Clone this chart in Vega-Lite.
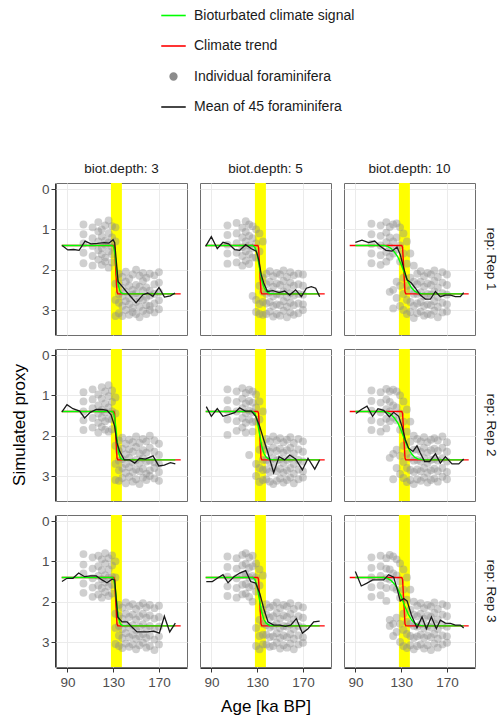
{
"$schema": "https://vega.github.io/schema/vega-lite/v6.json",
"background": "white",
"padding": {"left": 10, "top": 2, "right": 2, "bottom": 2},
"data": {"values": [
{"t":"b","d":3,"r":1,"a":128,"a2":137.6},{"t":"b","d":3,"r":2,"a":128,"a2":137.6},{"t":"b","d":3,"r":3,"a":128,"a2":137.6},
{"t":"b","d":5,"r":1,"a":128,"a2":137.6},{"t":"b","d":5,"r":2,"a":128,"a2":137.6},{"t":"b","d":5,"r":3,"a":128,"a2":137.6},
{"t":"b","d":10,"r":1,"a":128,"a2":137.6},{"t":"b","d":10,"r":2,"a":128,"a2":137.6},{"t":"b","d":10,"r":3,"a":128,"a2":137.6},

{"t":"c","d":3,"r":1,"a":85,"p":1.4},{"t":"c","d":3,"r":1,"a":130.5,"p":1.4},{"t":"c","d":3,"r":1,"a":131.2,"p":1.45},{"t":"c","d":3,"r":1,"a":133.3,"p":2.55},{"t":"c","d":3,"r":1,"a":134,"p":2.6},{"t":"c","d":3,"r":1,"a":189,"p":2.6},
{"t":"c","d":3,"r":2,"a":85,"p":1.4},{"t":"c","d":3,"r":2,"a":130.5,"p":1.4},{"t":"c","d":3,"r":2,"a":131.2,"p":1.45},{"t":"c","d":3,"r":2,"a":133.3,"p":2.55},{"t":"c","d":3,"r":2,"a":134,"p":2.6},{"t":"c","d":3,"r":2,"a":189,"p":2.6},
{"t":"c","d":3,"r":3,"a":85,"p":1.4},{"t":"c","d":3,"r":3,"a":130.5,"p":1.4},{"t":"c","d":3,"r":3,"a":131.2,"p":1.45},{"t":"c","d":3,"r":3,"a":133.3,"p":2.55},{"t":"c","d":3,"r":3,"a":134,"p":2.6},{"t":"c","d":3,"r":3,"a":189,"p":2.6},
{"t":"c","d":5,"r":1,"a":85,"p":1.4},{"t":"c","d":5,"r":1,"a":130.5,"p":1.4},{"t":"c","d":5,"r":1,"a":131.2,"p":1.45},{"t":"c","d":5,"r":1,"a":133.3,"p":2.55},{"t":"c","d":5,"r":1,"a":134,"p":2.6},{"t":"c","d":5,"r":1,"a":189,"p":2.6},
{"t":"c","d":5,"r":2,"a":85,"p":1.4},{"t":"c","d":5,"r":2,"a":130.5,"p":1.4},{"t":"c","d":5,"r":2,"a":131.2,"p":1.45},{"t":"c","d":5,"r":2,"a":133.3,"p":2.55},{"t":"c","d":5,"r":2,"a":134,"p":2.6},{"t":"c","d":5,"r":2,"a":189,"p":2.6},
{"t":"c","d":5,"r":3,"a":85,"p":1.4},{"t":"c","d":5,"r":3,"a":130.5,"p":1.4},{"t":"c","d":5,"r":3,"a":131.2,"p":1.45},{"t":"c","d":5,"r":3,"a":133.3,"p":2.55},{"t":"c","d":5,"r":3,"a":134,"p":2.6},{"t":"c","d":5,"r":3,"a":189,"p":2.6},
{"t":"c","d":10,"r":1,"a":85,"p":1.4},{"t":"c","d":10,"r":1,"a":130.5,"p":1.4},{"t":"c","d":10,"r":1,"a":131.2,"p":1.45},{"t":"c","d":10,"r":1,"a":133.3,"p":2.55},{"t":"c","d":10,"r":1,"a":134,"p":2.6},{"t":"c","d":10,"r":1,"a":189,"p":2.6},
{"t":"c","d":10,"r":2,"a":85,"p":1.4},{"t":"c","d":10,"r":2,"a":130.5,"p":1.4},{"t":"c","d":10,"r":2,"a":131.2,"p":1.45},{"t":"c","d":10,"r":2,"a":133.3,"p":2.55},{"t":"c","d":10,"r":2,"a":134,"p":2.6},{"t":"c","d":10,"r":2,"a":189,"p":2.6},
{"t":"c","d":10,"r":3,"a":85,"p":1.4},{"t":"c","d":10,"r":3,"a":130.5,"p":1.4},{"t":"c","d":10,"r":3,"a":131.2,"p":1.45},{"t":"c","d":10,"r":3,"a":133.3,"p":2.55},{"t":"c","d":10,"r":3,"a":134,"p":2.6},{"t":"c","d":10,"r":3,"a":189,"p":2.6},

{"t":"g","d":3,"r":1,"a":85,"p":1.4},{"t":"g","d":3,"r":1,"a":129.5,"p":1.4},{"t":"g","d":3,"r":1,"a":130.5,"p":1.45},{"t":"g","d":3,"r":1,"a":131.5,"p":1.6},{"t":"g","d":3,"r":1,"a":132.5,"p":1.85},{"t":"g","d":3,"r":1,"a":133.5,"p":2.15},{"t":"g","d":3,"r":1,"a":134.5,"p":2.38},{"t":"g","d":3,"r":1,"a":135.5,"p":2.5},{"t":"g","d":3,"r":1,"a":136.5,"p":2.56},{"t":"g","d":3,"r":1,"a":138,"p":2.59},{"t":"g","d":3,"r":1,"a":140,"p":2.6},{"t":"g","d":3,"r":1,"a":184.3,"p":2.6},
{"t":"g","d":3,"r":2,"a":85,"p":1.4},{"t":"g","d":3,"r":2,"a":129.5,"p":1.4},{"t":"g","d":3,"r":2,"a":130.5,"p":1.45},{"t":"g","d":3,"r":2,"a":131.5,"p":1.6},{"t":"g","d":3,"r":2,"a":132.5,"p":1.85},{"t":"g","d":3,"r":2,"a":133.5,"p":2.15},{"t":"g","d":3,"r":2,"a":134.5,"p":2.38},{"t":"g","d":3,"r":2,"a":135.5,"p":2.5},{"t":"g","d":3,"r":2,"a":136.5,"p":2.56},{"t":"g","d":3,"r":2,"a":138,"p":2.59},{"t":"g","d":3,"r":2,"a":140,"p":2.6},{"t":"g","d":3,"r":2,"a":184.3,"p":2.6},
{"t":"g","d":3,"r":3,"a":85,"p":1.4},{"t":"g","d":3,"r":3,"a":129.5,"p":1.4},{"t":"g","d":3,"r":3,"a":130.5,"p":1.45},{"t":"g","d":3,"r":3,"a":131.5,"p":1.6},{"t":"g","d":3,"r":3,"a":132.5,"p":1.85},{"t":"g","d":3,"r":3,"a":133.5,"p":2.15},{"t":"g","d":3,"r":3,"a":134.5,"p":2.38},{"t":"g","d":3,"r":3,"a":135.5,"p":2.5},{"t":"g","d":3,"r":3,"a":136.5,"p":2.56},{"t":"g","d":3,"r":3,"a":138,"p":2.59},{"t":"g","d":3,"r":3,"a":140,"p":2.6},{"t":"g","d":3,"r":3,"a":184.3,"p":2.6},
{"t":"g","d":5,"r":1,"a":85,"p":1.4},{"t":"g","d":5,"r":1,"a":126,"p":1.4},{"t":"g","d":5,"r":1,"a":128,"p":1.45},{"t":"g","d":5,"r":1,"a":130,"p":1.62},{"t":"g","d":5,"r":1,"a":132,"p":1.95},{"t":"g","d":5,"r":1,"a":134,"p":2.27},{"t":"g","d":5,"r":1,"a":136,"p":2.45},{"t":"g","d":5,"r":1,"a":138,"p":2.54},{"t":"g","d":5,"r":1,"a":141,"p":2.59},{"t":"g","d":5,"r":1,"a":145,"p":2.6},{"t":"g","d":5,"r":1,"a":184.6,"p":2.6},
{"t":"g","d":5,"r":2,"a":85,"p":1.4},{"t":"g","d":5,"r":2,"a":126,"p":1.4},{"t":"g","d":5,"r":2,"a":128,"p":1.45},{"t":"g","d":5,"r":2,"a":130,"p":1.62},{"t":"g","d":5,"r":2,"a":132,"p":1.95},{"t":"g","d":5,"r":2,"a":134,"p":2.27},{"t":"g","d":5,"r":2,"a":136,"p":2.45},{"t":"g","d":5,"r":2,"a":138,"p":2.54},{"t":"g","d":5,"r":2,"a":141,"p":2.59},{"t":"g","d":5,"r":2,"a":145,"p":2.6},{"t":"g","d":5,"r":2,"a":184.6,"p":2.6},
{"t":"g","d":5,"r":3,"a":85,"p":1.4},{"t":"g","d":5,"r":3,"a":126,"p":1.4},{"t":"g","d":5,"r":3,"a":128,"p":1.45},{"t":"g","d":5,"r":3,"a":130,"p":1.62},{"t":"g","d":5,"r":3,"a":132,"p":1.95},{"t":"g","d":5,"r":3,"a":134,"p":2.27},{"t":"g","d":5,"r":3,"a":136,"p":2.45},{"t":"g","d":5,"r":3,"a":138,"p":2.54},{"t":"g","d":5,"r":3,"a":141,"p":2.59},{"t":"g","d":5,"r":3,"a":145,"p":2.6},{"t":"g","d":5,"r":3,"a":184.6,"p":2.6},
{"t":"g","d":10,"r":1,"a":90,"p":1.4},{"t":"g","d":10,"r":1,"a":115,"p":1.4},{"t":"g","d":10,"r":1,"a":118,"p":1.42},{"t":"g","d":10,"r":1,"a":121,"p":1.47},{"t":"g","d":10,"r":1,"a":124,"p":1.56},{"t":"g","d":10,"r":1,"a":127,"p":1.68},{"t":"g","d":10,"r":1,"a":130,"p":1.87},{"t":"g","d":10,"r":1,"a":133,"p":2.1},{"t":"g","d":10,"r":1,"a":136,"p":2.3},{"t":"g","d":10,"r":1,"a":139,"p":2.45},{"t":"g","d":10,"r":1,"a":142,"p":2.54},{"t":"g","d":10,"r":1,"a":145,"p":2.58},{"t":"g","d":10,"r":1,"a":149,"p":2.6},{"t":"g","d":10,"r":1,"a":184.6,"p":2.6},
{"t":"g","d":10,"r":2,"a":90,"p":1.4},{"t":"g","d":10,"r":2,"a":115,"p":1.4},{"t":"g","d":10,"r":2,"a":118,"p":1.42},{"t":"g","d":10,"r":2,"a":121,"p":1.47},{"t":"g","d":10,"r":2,"a":124,"p":1.56},{"t":"g","d":10,"r":2,"a":127,"p":1.68},{"t":"g","d":10,"r":2,"a":130,"p":1.87},{"t":"g","d":10,"r":2,"a":133,"p":2.1},{"t":"g","d":10,"r":2,"a":136,"p":2.3},{"t":"g","d":10,"r":2,"a":139,"p":2.45},{"t":"g","d":10,"r":2,"a":142,"p":2.54},{"t":"g","d":10,"r":2,"a":145,"p":2.58},{"t":"g","d":10,"r":2,"a":149,"p":2.6},{"t":"g","d":10,"r":2,"a":184.6,"p":2.6},
{"t":"g","d":10,"r":3,"a":90,"p":1.4},{"t":"g","d":10,"r":3,"a":115,"p":1.4},{"t":"g","d":10,"r":3,"a":118,"p":1.42},{"t":"g","d":10,"r":3,"a":121,"p":1.47},{"t":"g","d":10,"r":3,"a":124,"p":1.56},{"t":"g","d":10,"r":3,"a":127,"p":1.68},{"t":"g","d":10,"r":3,"a":130,"p":1.87},{"t":"g","d":10,"r":3,"a":133,"p":2.1},{"t":"g","d":10,"r":3,"a":136,"p":2.3},{"t":"g","d":10,"r":3,"a":139,"p":2.45},{"t":"g","d":10,"r":3,"a":142,"p":2.54},{"t":"g","d":10,"r":3,"a":145,"p":2.58},{"t":"g","d":10,"r":3,"a":149,"p":2.6},{"t":"g","d":10,"r":3,"a":184.6,"p":2.6},

{"t":"m","d":3,"r":1,"a":85.4,"p":1.4},{"t":"m","d":3,"r":1,"a":90.3,"p":1.51},{"t":"m","d":3,"r":1,"a":95.4,"p":1.5},{"t":"m","d":3,"r":1,"a":100.2,"p":1.52},{"t":"m","d":3,"r":1,"a":105.4,"p":1.29},{"t":"m","d":3,"r":1,"a":110.6,"p":1.36},{"t":"m","d":3,"r":1,"a":116.2,"p":1.35},{"t":"m","d":3,"r":1,"a":122.2,"p":1.33},{"t":"m","d":3,"r":1,"a":126.3,"p":1.34},{"t":"m","d":3,"r":1,"a":129.9,"p":1.26},{"t":"m","d":3,"r":1,"a":131.3,"p":1.33},{"t":"m","d":3,"r":1,"a":134.3,"p":2.3},{"t":"m","d":3,"r":1,"a":138,"p":2.42},{"t":"m","d":3,"r":1,"a":142,"p":2.56},{"t":"m","d":3,"r":1,"a":150,"p":2.82},{"t":"m","d":3,"r":1,"a":156,"p":2.62},{"t":"m","d":3,"r":1,"a":160.1,"p":2.58},{"t":"m","d":3,"r":1,"a":164.7,"p":2.66},{"t":"m","d":3,"r":1,"a":170,"p":2.44},{"t":"m","d":3,"r":1,"a":174.8,"p":2.68},{"t":"m","d":3,"r":1,"a":180,"p":2.65},{"t":"m","d":3,"r":1,"a":184,"p":2.58},
{"t":"m","d":5,"r":1,"a":84.9,"p":1.42},{"t":"m","d":5,"r":1,"a":89.9,"p":1.18},{"t":"m","d":5,"r":1,"a":95.1,"p":1.48},{"t":"m","d":5,"r":1,"a":100.1,"p":1.32},{"t":"m","d":5,"r":1,"a":105,"p":1.36},{"t":"m","d":5,"r":1,"a":110.3,"p":1.5},{"t":"m","d":5,"r":1,"a":114.7,"p":1.52},{"t":"m","d":5,"r":1,"a":119.9,"p":1.38},{"t":"m","d":5,"r":1,"a":124.9,"p":1.48},{"t":"m","d":5,"r":1,"a":129.2,"p":1.54},{"t":"m","d":5,"r":1,"a":131.3,"p":1.75},{"t":"m","d":5,"r":1,"a":133.6,"p":2.13},{"t":"m","d":5,"r":1,"a":135.7,"p":2.33},{"t":"m","d":5,"r":1,"a":138.9,"p":2.54},{"t":"m","d":5,"r":1,"a":143.8,"p":2.52},{"t":"m","d":5,"r":1,"a":149.1,"p":2.57},{"t":"m","d":5,"r":1,"a":154,"p":2.53},{"t":"m","d":5,"r":1,"a":158.4,"p":2.63},{"t":"m","d":5,"r":1,"a":163.6,"p":2.5},{"t":"m","d":5,"r":1,"a":168.6,"p":2.67},{"t":"m","d":5,"r":1,"a":173,"p":2.46},{"t":"m","d":5,"r":1,"a":177.3,"p":2.42},{"t":"m","d":5,"r":1,"a":181.1,"p":2.46},{"t":"m","d":5,"r":1,"a":184.6,"p":2.67},
{"t":"m","d":10,"r":1,"a":89.9,"p":1.32},{"t":"m","d":10,"r":1,"a":95.7,"p":1.27},{"t":"m","d":10,"r":1,"a":101.5,"p":1.33},{"t":"m","d":10,"r":1,"a":106.8,"p":1.29},{"t":"m","d":10,"r":1,"a":111.7,"p":1.42},{"t":"m","d":10,"r":1,"a":116.7,"p":1.52},{"t":"m","d":10,"r":1,"a":122,"p":1.54},{"t":"m","d":10,"r":1,"a":126.3,"p":1.44},{"t":"m","d":10,"r":1,"a":129.2,"p":1.63},{"t":"m","d":10,"r":1,"a":132.2,"p":1.96},{"t":"m","d":10,"r":1,"a":135.1,"p":2.25},{"t":"m","d":10,"r":1,"a":138.9,"p":2.33},{"t":"m","d":10,"r":1,"a":142.4,"p":2.46},{"t":"m","d":10,"r":1,"a":146.7,"p":2.63},{"t":"m","d":10,"r":1,"a":151.1,"p":2.73},{"t":"m","d":10,"r":1,"a":155.5,"p":2.73},{"t":"m","d":10,"r":1,"a":159.9,"p":2.54},{"t":"m","d":10,"r":1,"a":164.2,"p":2.67},{"t":"m","d":10,"r":1,"a":168.6,"p":2.63},{"t":"m","d":10,"r":1,"a":173,"p":2.63},{"t":"m","d":10,"r":1,"a":177.3,"p":2.67},{"t":"m","d":10,"r":1,"a":181.7,"p":2.67},{"t":"m","d":10,"r":1,"a":184.6,"p":2.57},
{"t":"m","d":3,"r":2,"a":85.2,"p":1.41},{"t":"m","d":3,"r":2,"a":89.6,"p":1.23},{"t":"m","d":3,"r":2,"a":94.8,"p":1.33},{"t":"m","d":3,"r":2,"a":100.7,"p":1.39},{"t":"m","d":3,"r":2,"a":105,"p":1.56},{"t":"m","d":3,"r":2,"a":110,"p":1.42},{"t":"m","d":3,"r":2,"a":115.2,"p":1.35},{"t":"m","d":3,"r":2,"a":120.2,"p":1.35},{"t":"m","d":3,"r":2,"a":124.6,"p":1.37},{"t":"m","d":3,"r":2,"a":128.1,"p":1.48},{"t":"m","d":3,"r":2,"a":131.3,"p":1.77},{"t":"m","d":3,"r":2,"a":133.3,"p":2.18},{"t":"m","d":3,"r":2,"a":135.7,"p":2.39},{"t":"m","d":3,"r":2,"a":139.7,"p":2.6},{"t":"m","d":3,"r":2,"a":144.4,"p":2.6},{"t":"m","d":3,"r":2,"a":148.8,"p":2.68},{"t":"m","d":3,"r":2,"a":153.1,"p":2.56},{"t":"m","d":3,"r":2,"a":158.1,"p":2.58},{"t":"m","d":3,"r":2,"a":164.8,"p":2.5},{"t":"m","d":3,"r":2,"a":169.8,"p":2.75},{"t":"m","d":3,"r":2,"a":174.7,"p":2.73},{"t":"m","d":3,"r":2,"a":180,"p":2.67},{"t":"m","d":3,"r":2,"a":184.3,"p":2.7},
{"t":"m","d":5,"r":2,"a":85.5,"p":1.28},{"t":"m","d":5,"r":2,"a":89.9,"p":1.52},{"t":"m","d":5,"r":2,"a":95.1,"p":1.33},{"t":"m","d":5,"r":2,"a":100.1,"p":1.52},{"t":"m","d":5,"r":2,"a":105,"p":1.48},{"t":"m","d":5,"r":2,"a":110.3,"p":1.43},{"t":"m","d":5,"r":2,"a":114.7,"p":1.31},{"t":"m","d":5,"r":2,"a":119.6,"p":1.39},{"t":"m","d":5,"r":2,"a":124.9,"p":1.39},{"t":"m","d":5,"r":2,"a":128.7,"p":1.52},{"t":"m","d":5,"r":2,"a":132.2,"p":1.77},{"t":"m","d":5,"r":2,"a":135.7,"p":2.1},{"t":"m","d":5,"r":2,"a":139.4,"p":2.43},{"t":"m","d":5,"r":2,"a":144.4,"p":2.92},{"t":"m","d":5,"r":2,"a":149.1,"p":2.52},{"t":"m","d":5,"r":2,"a":154,"p":2.6},{"t":"m","d":5,"r":2,"a":158.4,"p":2.48},{"t":"m","d":5,"r":2,"a":163.6,"p":2.58},{"t":"m","d":5,"r":2,"a":169.5,"p":2.85},{"t":"m","d":5,"r":2,"a":174.4,"p":2.56},{"t":"m","d":5,"r":2,"a":180.3,"p":2.83},{"t":"m","d":5,"r":2,"a":184.6,"p":2.6},
{"t":"m","d":10,"r":2,"a":90.5,"p":1.45},{"t":"m","d":10,"r":2,"a":95.1,"p":1.35},{"t":"m","d":10,"r":2,"a":100.1,"p":1.27},{"t":"m","d":10,"r":2,"a":105,"p":1.52},{"t":"m","d":10,"r":2,"a":109.7,"p":1.33},{"t":"m","d":10,"r":2,"a":114.7,"p":1.37},{"t":"m","d":10,"r":2,"a":119.6,"p":1.53},{"t":"m","d":10,"r":2,"a":123.4,"p":1.42},{"t":"m","d":10,"r":2,"a":127.8,"p":1.52},{"t":"m","d":10,"r":2,"a":130.7,"p":1.77},{"t":"m","d":10,"r":2,"a":133.6,"p":2.1},{"t":"m","d":10,"r":2,"a":136.5,"p":2.31},{"t":"m","d":10,"r":2,"a":140.3,"p":2.39},{"t":"m","d":10,"r":2,"a":143.8,"p":2.25},{"t":"m","d":10,"r":2,"a":146.7,"p":2.43},{"t":"m","d":10,"r":2,"a":150.5,"p":2.64},{"t":"m","d":10,"r":2,"a":154.9,"p":2.64},{"t":"m","d":10,"r":2,"a":159.9,"p":2.45},{"t":"m","d":10,"r":2,"a":164.2,"p":2.68},{"t":"m","d":10,"r":2,"a":168.6,"p":2.52},{"t":"m","d":10,"r":2,"a":174.4,"p":2.7},{"t":"m","d":10,"r":2,"a":180.3,"p":2.7},{"t":"m","d":10,"r":2,"a":184.6,"p":2.58},
{"t":"m","d":3,"r":3,"a":85.2,"p":1.5},{"t":"m","d":3,"r":3,"a":89.6,"p":1.42},{"t":"m","d":3,"r":3,"a":94.8,"p":1.42},{"t":"m","d":3,"r":3,"a":99.8,"p":1.29},{"t":"m","d":3,"r":3,"a":105,"p":1.38},{"t":"m","d":3,"r":3,"a":110,"p":1.36},{"t":"m","d":3,"r":3,"a":115.2,"p":1.36},{"t":"m","d":3,"r":3,"a":120.2,"p":1.46},{"t":"m","d":3,"r":3,"a":124.6,"p":1.53},{"t":"m","d":3,"r":3,"a":129,"p":1.44},{"t":"m","d":3,"r":3,"a":131.3,"p":1.46},{"t":"m","d":3,"r":3,"a":133.9,"p":2.38},{"t":"m","d":3,"r":3,"a":137.7,"p":2.5},{"t":"m","d":3,"r":3,"a":142.1,"p":2.5},{"t":"m","d":3,"r":3,"a":146.4,"p":2.63},{"t":"m","d":3,"r":3,"a":150.8,"p":2.75},{"t":"m","d":3,"r":3,"a":155.2,"p":2.75},{"t":"m","d":3,"r":3,"a":160.1,"p":2.75},{"t":"m","d":3,"r":3,"a":165.4,"p":2.73},{"t":"m","d":3,"r":3,"a":170.3,"p":2.78},{"t":"m","d":3,"r":3,"a":174.7,"p":2.36},{"t":"m","d":3,"r":3,"a":179.4,"p":2.75},{"t":"m","d":3,"r":3,"a":184.3,"p":2.53},
{"t":"m","d":5,"r":3,"a":85.5,"p":1.5},{"t":"m","d":5,"r":3,"a":90.8,"p":1.5},{"t":"m","d":5,"r":3,"a":95.1,"p":1.42},{"t":"m","d":5,"r":3,"a":100.1,"p":1.33},{"t":"m","d":5,"r":3,"a":104.5,"p":1.53},{"t":"m","d":5,"r":3,"a":109.7,"p":1.38},{"t":"m","d":5,"r":3,"a":114.7,"p":1.29},{"t":"m","d":5,"r":3,"a":119.9,"p":1.23},{"t":"m","d":5,"r":3,"a":124.3,"p":1.5},{"t":"m","d":5,"r":3,"a":128.7,"p":1.54},{"t":"m","d":5,"r":3,"a":132.2,"p":1.79},{"t":"m","d":5,"r":3,"a":135.7,"p":2.17},{"t":"m","d":5,"r":3,"a":139.4,"p":2.5},{"t":"m","d":5,"r":3,"a":144.4,"p":2.58},{"t":"m","d":5,"r":3,"a":149.7,"p":2.58},{"t":"m","d":5,"r":3,"a":154.6,"p":2.61},{"t":"m","d":5,"r":3,"a":159.3,"p":2.58},{"t":"m","d":5,"r":3,"a":164.2,"p":2.42},{"t":"m","d":5,"r":3,"a":169.5,"p":2.78},{"t":"m","d":5,"r":3,"a":174.4,"p":2.67},{"t":"m","d":5,"r":3,"a":179.4,"p":2.5},{"t":"m","d":5,"r":3,"a":184.6,"p":2.48},
{"t":"m","d":10,"r":3,"a":89.9,"p":1.25},{"t":"m","d":10,"r":3,"a":95.1,"p":1.61},{"t":"m","d":10,"r":3,"a":100.1,"p":1.54},{"t":"m","d":10,"r":3,"a":105,"p":1.46},{"t":"m","d":10,"r":3,"a":109.7,"p":1.46},{"t":"m","d":10,"r":3,"a":114.7,"p":1.46},{"t":"m","d":10,"r":3,"a":119,"p":1.33},{"t":"m","d":10,"r":3,"a":123.4,"p":1.39},{"t":"m","d":10,"r":3,"a":126.3,"p":1.67},{"t":"m","d":10,"r":3,"a":129.2,"p":1.98},{"t":"m","d":10,"r":3,"a":132.2,"p":1.92},{"t":"m","d":10,"r":3,"a":135.1,"p":1.98},{"t":"m","d":10,"r":3,"a":138.9,"p":2.33},{"t":"m","d":10,"r":3,"a":143.8,"p":2.65},{"t":"m","d":10,"r":3,"a":148.2,"p":2.38},{"t":"m","d":10,"r":3,"a":152,"p":2.67},{"t":"m","d":10,"r":3,"a":156.4,"p":2.38},{"t":"m","d":10,"r":3,"a":160.7,"p":2.67},{"t":"m","d":10,"r":3,"a":164.2,"p":2.46},{"t":"m","d":10,"r":3,"a":168.6,"p":2.53},{"t":"m","d":10,"r":3,"a":173,"p":2.54},{"t":"m","d":10,"r":3,"a":177.3,"p":2.58},{"t":"m","d":10,"r":3,"a":181.7,"p":2.58},{"t":"m","d":10,"r":3,"a":184.6,"p":2.65},

{"t":"f","d":3,"r":1,"a":104,"p":0.88},{"t":"f","d":3,"r":1,"a":104,"p":1.12},{"t":"f","d":3,"r":1,"a":104,"p":1.35},{"t":"f","d":3,"r":1,"a":104,"p":1.58},{"t":"f","d":3,"r":1,"a":104,"p":1.84},
{"t":"f","d":3,"r":1,"a":112,"p":0.95},{"t":"f","d":3,"r":1,"a":112,"p":1.22},{"t":"f","d":3,"r":1,"a":112,"p":1.41},{"t":"f","d":3,"r":1,"a":112,"p":1.66},{"t":"f","d":3,"r":1,"a":112,"p":1.9},
{"t":"f","d":3,"r":1,"a":117,"p":0.82},{"t":"f","d":3,"r":1,"a":117,"p":1.05},{"t":"f","d":3,"r":1,"a":117,"p":1.3},{"t":"f","d":3,"r":1,"a":117,"p":1.52},{"t":"f","d":3,"r":1,"a":117,"p":1.75},
{"t":"f","d":3,"r":1,"a":120,"p":1.0},{"t":"f","d":3,"r":1,"a":120,"p":1.18},{"t":"f","d":3,"r":1,"a":120,"p":1.46},{"t":"f","d":3,"r":1,"a":120,"p":1.62},{"t":"f","d":3,"r":1,"a":120,"p":1.88},
{"t":"f","d":3,"r":1,"a":123,"p":0.9},{"t":"f","d":3,"r":1,"a":123,"p":1.28},{"t":"f","d":3,"r":1,"a":123,"p":1.38},{"t":"f","d":3,"r":1,"a":123,"p":1.7},{"t":"f","d":3,"r":1,"a":123,"p":1.8},
{"t":"f","d":3,"r":1,"a":126,"p":0.78},{"t":"f","d":3,"r":1,"a":126,"p":1.1},{"t":"f","d":3,"r":1,"a":126,"p":1.33},{"t":"f","d":3,"r":1,"a":126,"p":1.55},{"t":"f","d":3,"r":1,"a":126,"p":1.95},
{"t":"f","d":3,"r":1,"a":129,"p":0.92},{"t":"f","d":3,"r":1,"a":129,"p":1.2},{"t":"f","d":3,"r":1,"a":129,"p":1.44},{"t":"f","d":3,"r":1,"a":129,"p":1.62},{"t":"f","d":3,"r":1,"a":129,"p":1.82},
{"t":"f","d":3,"r":1,"a":132,"p":0.95},{"t":"f","d":3,"r":1,"a":132,"p":1.3},{"t":"f","d":3,"r":1,"a":132,"p":2.35},{"t":"f","d":3,"r":1,"a":132,"p":2.75},{"t":"f","d":3,"r":1,"a":132,"p":3.15},
{"t":"f","d":3,"r":1,"a":135,"p":2.1},{"t":"f","d":3,"r":1,"a":135,"p":2.35},{"t":"f","d":3,"r":1,"a":135,"p":2.6},{"t":"f","d":3,"r":1,"a":135,"p":2.82},{"t":"f","d":3,"r":1,"a":135,"p":3.08},
{"t":"f","d":3,"r":1,"a":138,"p":2.18},{"t":"f","d":3,"r":1,"a":138,"p":2.45},{"t":"f","d":3,"r":1,"a":138,"p":2.66},{"t":"f","d":3,"r":1,"a":138,"p":2.9},{"t":"f","d":3,"r":1,"a":138,"p":3.15},
{"t":"f","d":3,"r":1,"a":141,"p":2.05},{"t":"f","d":3,"r":1,"a":141,"p":2.3},{"t":"f","d":3,"r":1,"a":141,"p":2.55},{"t":"f","d":3,"r":1,"a":141,"p":2.78},{"t":"f","d":3,"r":1,"a":141,"p":3.0},
{"t":"f","d":3,"r":1,"a":144,"p":2.22},{"t":"f","d":3,"r":1,"a":144,"p":2.4},{"t":"f","d":3,"r":1,"a":144,"p":2.7},{"t":"f","d":3,"r":1,"a":144,"p":2.86},{"t":"f","d":3,"r":1,"a":144,"p":3.12},
{"t":"f","d":3,"r":1,"a":147,"p":2.12},{"t":"f","d":3,"r":1,"a":147,"p":2.5},{"t":"f","d":3,"r":1,"a":147,"p":2.62},{"t":"f","d":3,"r":1,"a":147,"p":2.95},{"t":"f","d":3,"r":1,"a":147,"p":3.05},
{"t":"f","d":3,"r":1,"a":150,"p":2.0},{"t":"f","d":3,"r":1,"a":150,"p":2.38},{"t":"f","d":3,"r":1,"a":150,"p":2.58},{"t":"f","d":3,"r":1,"a":150,"p":2.8},{"t":"f","d":3,"r":1,"a":150,"p":3.1},
{"t":"f","d":3,"r":1,"a":153,"p":2.15},{"t":"f","d":3,"r":1,"a":153,"p":2.42},{"t":"f","d":3,"r":1,"a":153,"p":2.7},{"t":"f","d":3,"r":1,"a":153,"p":2.92},{"t":"f","d":3,"r":1,"a":153,"p":3.18},
{"t":"f","d":3,"r":1,"a":156,"p":2.08},{"t":"f","d":3,"r":1,"a":156,"p":2.28},{"t":"f","d":3,"r":1,"a":156,"p":2.52},{"t":"f","d":3,"r":1,"a":156,"p":2.75},{"t":"f","d":3,"r":1,"a":156,"p":3.02},
{"t":"f","d":3,"r":1,"a":159,"p":2.2},{"t":"f","d":3,"r":1,"a":159,"p":2.44},{"t":"f","d":3,"r":1,"a":159,"p":2.68},{"t":"f","d":3,"r":1,"a":159,"p":2.88},{"t":"f","d":3,"r":1,"a":159,"p":3.1},
{"t":"f","d":3,"r":1,"a":162,"p":2.1},{"t":"f","d":3,"r":1,"a":162,"p":2.52},{"t":"f","d":3,"r":1,"a":162,"p":2.64},{"t":"f","d":3,"r":1,"a":162,"p":2.9},{"t":"f","d":3,"r":1,"a":162,"p":3.0},
{"t":"f","d":3,"r":1,"a":166,"p":2.14},{"t":"f","d":3,"r":1,"a":166,"p":2.36},{"t":"f","d":3,"r":1,"a":166,"p":2.6},{"t":"f","d":3,"r":1,"a":166,"p":2.84},{"t":"f","d":3,"r":1,"a":166,"p":3.06},
{"t":"f","d":3,"r":1,"a":170,"p":2.06},{"t":"f","d":3,"r":1,"a":170,"p":2.32},{"t":"f","d":3,"r":1,"a":170,"p":2.56},{"t":"f","d":3,"r":1,"a":170,"p":2.76},{"t":"f","d":3,"r":1,"a":170,"p":2.98},

{"t":"f","d":3,"r":2,"a":104,"p":0.92},{"t":"f","d":3,"r":2,"a":104,"p":1.15},{"t":"f","d":3,"r":2,"a":104,"p":1.4},{"t":"f","d":3,"r":2,"a":104,"p":1.62},{"t":"f","d":3,"r":2,"a":104,"p":1.86},
{"t":"f","d":3,"r":2,"a":112,"p":0.85},{"t":"f","d":3,"r":2,"a":112,"p":1.1},{"t":"f","d":3,"r":2,"a":112,"p":1.32},{"t":"f","d":3,"r":2,"a":112,"p":1.56},{"t":"f","d":3,"r":2,"a":112,"p":1.8},
{"t":"f","d":3,"r":2,"a":117,"p":0.98},{"t":"f","d":3,"r":2,"a":117,"p":1.25},{"t":"f","d":3,"r":2,"a":117,"p":1.45},{"t":"f","d":3,"r":2,"a":117,"p":1.68},{"t":"f","d":3,"r":2,"a":117,"p":1.92},
{"t":"f","d":3,"r":2,"a":120,"p":0.8},{"t":"f","d":3,"r":2,"a":120,"p":1.08},{"t":"f","d":3,"r":2,"a":120,"p":1.36},{"t":"f","d":3,"r":2,"a":120,"p":1.55},{"t":"f","d":3,"r":2,"a":120,"p":1.78},
{"t":"f","d":3,"r":2,"a":123,"p":0.9},{"t":"f","d":3,"r":2,"a":123,"p":1.2},{"t":"f","d":3,"r":2,"a":123,"p":1.42},{"t":"f","d":3,"r":2,"a":123,"p":1.64},{"t":"f","d":3,"r":2,"a":123,"p":1.85},
{"t":"f","d":3,"r":2,"a":126,"p":0.75},{"t":"f","d":3,"r":2,"a":126,"p":1.02},{"t":"f","d":3,"r":2,"a":126,"p":1.3},{"t":"f","d":3,"r":2,"a":126,"p":1.58},{"t":"f","d":3,"r":2,"a":126,"p":1.9},
{"t":"f","d":3,"r":2,"a":129,"p":0.88},{"t":"f","d":3,"r":2,"a":129,"p":1.16},{"t":"f","d":3,"r":2,"a":129,"p":1.4},{"t":"f","d":3,"r":2,"a":129,"p":1.6},{"t":"f","d":3,"r":2,"a":129,"p":1.84},
{"t":"f","d":3,"r":2,"a":132,"p":1.05},{"t":"f","d":3,"r":2,"a":132,"p":1.45},{"t":"f","d":3,"r":2,"a":132,"p":2.25},{"t":"f","d":3,"r":2,"a":132,"p":2.7},{"t":"f","d":3,"r":2,"a":132,"p":3.1},
{"t":"f","d":3,"r":2,"a":135,"p":2.12},{"t":"f","d":3,"r":2,"a":135,"p":2.38},{"t":"f","d":3,"r":2,"a":135,"p":2.62},{"t":"f","d":3,"r":2,"a":135,"p":2.86},{"t":"f","d":3,"r":2,"a":135,"p":3.12},
{"t":"f","d":3,"r":2,"a":138,"p":2.05},{"t":"f","d":3,"r":2,"a":138,"p":2.32},{"t":"f","d":3,"r":2,"a":138,"p":2.58},{"t":"f","d":3,"r":2,"a":138,"p":2.8},{"t":"f","d":3,"r":2,"a":138,"p":3.05},
{"t":"f","d":3,"r":2,"a":141,"p":2.2},{"t":"f","d":3,"r":2,"a":141,"p":2.46},{"t":"f","d":3,"r":2,"a":141,"p":2.7},{"t":"f","d":3,"r":2,"a":141,"p":2.92},{"t":"f","d":3,"r":2,"a":141,"p":3.18},
{"t":"f","d":3,"r":2,"a":144,"p":2.1},{"t":"f","d":3,"r":2,"a":144,"p":2.34},{"t":"f","d":3,"r":2,"a":144,"p":2.55},{"t":"f","d":3,"r":2,"a":144,"p":2.78},{"t":"f","d":3,"r":2,"a":144,"p":3.02},
{"t":"f","d":3,"r":2,"a":147,"p":2.16},{"t":"f","d":3,"r":2,"a":147,"p":2.4},{"t":"f","d":3,"r":2,"a":147,"p":2.66},{"t":"f","d":3,"r":2,"a":147,"p":2.9},{"t":"f","d":3,"r":2,"a":147,"p":3.14},
{"t":"f","d":3,"r":2,"a":150,"p":2.02},{"t":"f","d":3,"r":2,"a":150,"p":2.28},{"t":"f","d":3,"r":2,"a":150,"p":2.6},{"t":"f","d":3,"r":2,"a":150,"p":2.84},{"t":"f","d":3,"r":2,"a":150,"p":3.08},
{"t":"f","d":3,"r":2,"a":153,"p":2.18},{"t":"f","d":3,"r":2,"a":153,"p":2.44},{"t":"f","d":3,"r":2,"a":153,"p":2.68},{"t":"f","d":3,"r":2,"a":153,"p":2.88},{"t":"f","d":3,"r":2,"a":153,"p":3.2},
{"t":"f","d":3,"r":2,"a":156,"p":2.08},{"t":"f","d":3,"r":2,"a":156,"p":2.36},{"t":"f","d":3,"r":2,"a":156,"p":2.56},{"t":"f","d":3,"r":2,"a":156,"p":2.82},{"t":"f","d":3,"r":2,"a":156,"p":3.04},
{"t":"f","d":3,"r":2,"a":159,"p":2.14},{"t":"f","d":3,"r":2,"a":159,"p":2.42},{"t":"f","d":3,"r":2,"a":159,"p":2.64},{"t":"f","d":3,"r":2,"a":159,"p":2.94},{"t":"f","d":3,"r":2,"a":159,"p":3.1},
{"t":"f","d":3,"r":2,"a":162,"p":2.0},{"t":"f","d":3,"r":2,"a":162,"p":2.3},{"t":"f","d":3,"r":2,"a":162,"p":2.62},{"t":"f","d":3,"r":2,"a":162,"p":2.86},{"t":"f","d":3,"r":2,"a":162,"p":3.0},
{"t":"f","d":3,"r":2,"a":166,"p":2.12},{"t":"f","d":3,"r":2,"a":166,"p":2.4},{"t":"f","d":3,"r":2,"a":166,"p":2.66},{"t":"f","d":3,"r":2,"a":166,"p":2.8},{"t":"f","d":3,"r":2,"a":166,"p":3.06},
{"t":"f","d":3,"r":2,"a":170,"p":2.2},{"t":"f","d":3,"r":2,"a":170,"p":2.48},{"t":"f","d":3,"r":2,"a":170,"p":2.7},{"t":"f","d":3,"r":2,"a":170,"p":2.9},{"t":"f","d":3,"r":2,"a":170,"p":3.12},

{"t":"f","d":3,"r":3,"a":104,"p":0.82},{"t":"f","d":3,"r":3,"a":104,"p":1.08},{"t":"f","d":3,"r":3,"a":104,"p":1.3},{"t":"f","d":3,"r":3,"a":104,"p":1.55},{"t":"f","d":3,"r":3,"a":104,"p":1.78},
{"t":"f","d":3,"r":3,"a":112,"p":0.9},{"t":"f","d":3,"r":3,"a":112,"p":1.18},{"t":"f","d":3,"r":3,"a":112,"p":1.42},{"t":"f","d":3,"r":3,"a":112,"p":1.65},{"t":"f","d":3,"r":3,"a":112,"p":1.88},
{"t":"f","d":3,"r":3,"a":117,"p":0.86},{"t":"f","d":3,"r":3,"a":117,"p":1.12},{"t":"f","d":3,"r":3,"a":117,"p":1.36},{"t":"f","d":3,"r":3,"a":117,"p":1.6},{"t":"f","d":3,"r":3,"a":117,"p":1.82},
{"t":"f","d":3,"r":3,"a":120,"p":0.95},{"t":"f","d":3,"r":3,"a":120,"p":1.22},{"t":"f","d":3,"r":3,"a":120,"p":1.44},{"t":"f","d":3,"r":3,"a":120,"p":1.66},{"t":"f","d":3,"r":3,"a":120,"p":1.9},
{"t":"f","d":3,"r":3,"a":123,"p":0.8},{"t":"f","d":3,"r":3,"a":123,"p":1.05},{"t":"f","d":3,"r":3,"a":123,"p":1.34},{"t":"f","d":3,"r":3,"a":123,"p":1.52},{"t":"f","d":3,"r":3,"a":123,"p":1.76},
{"t":"f","d":3,"r":3,"a":126,"p":0.92},{"t":"f","d":3,"r":3,"a":126,"p":1.2},{"t":"f","d":3,"r":3,"a":126,"p":1.4},{"t":"f","d":3,"r":3,"a":126,"p":1.62},{"t":"f","d":3,"r":3,"a":126,"p":1.86},
{"t":"f","d":3,"r":3,"a":129,"p":0.85},{"t":"f","d":3,"r":3,"a":129,"p":1.1},{"t":"f","d":3,"r":3,"a":129,"p":1.38},{"t":"f","d":3,"r":3,"a":129,"p":1.58},{"t":"f","d":3,"r":3,"a":129,"p":1.8},
{"t":"f","d":3,"r":3,"a":132,"p":1.0},{"t":"f","d":3,"r":3,"a":132,"p":1.4},{"t":"f","d":3,"r":3,"a":132,"p":2.3},{"t":"f","d":3,"r":3,"a":132,"p":2.65},{"t":"f","d":3,"r":3,"a":132,"p":3.05},
{"t":"f","d":3,"r":3,"a":135,"p":2.08},{"t":"f","d":3,"r":3,"a":135,"p":2.35},{"t":"f","d":3,"r":3,"a":135,"p":2.6},{"t":"f","d":3,"r":3,"a":135,"p":2.84},{"t":"f","d":3,"r":3,"a":135,"p":3.1},
{"t":"f","d":3,"r":3,"a":138,"p":2.15},{"t":"f","d":3,"r":3,"a":138,"p":2.42},{"t":"f","d":3,"r":3,"a":138,"p":2.68},{"t":"f","d":3,"r":3,"a":138,"p":2.9},{"t":"f","d":3,"r":3,"a":138,"p":3.15},
{"t":"f","d":3,"r":3,"a":141,"p":2.02},{"t":"f","d":3,"r":3,"a":141,"p":2.3},{"t":"f","d":3,"r":3,"a":141,"p":2.55},{"t":"f","d":3,"r":3,"a":141,"p":2.78},{"t":"f","d":3,"r":3,"a":141,"p":3.04},
{"t":"f","d":3,"r":3,"a":144,"p":2.12},{"t":"f","d":3,"r":3,"a":144,"p":2.38},{"t":"f","d":3,"r":3,"a":144,"p":2.64},{"t":"f","d":3,"r":3,"a":144,"p":2.88},{"t":"f","d":3,"r":3,"a":144,"p":3.12},
{"t":"f","d":3,"r":3,"a":147,"p":2.06},{"t":"f","d":3,"r":3,"a":147,"p":2.32},{"t":"f","d":3,"r":3,"a":147,"p":2.58},{"t":"f","d":3,"r":3,"a":147,"p":2.82},{"t":"f","d":3,"r":3,"a":147,"p":3.06},
{"t":"f","d":3,"r":3,"a":150,"p":2.18},{"t":"f","d":3,"r":3,"a":150,"p":2.44},{"t":"f","d":3,"r":3,"a":150,"p":2.7},{"t":"f","d":3,"r":3,"a":150,"p":2.92},{"t":"f","d":3,"r":3,"a":150,"p":3.18},
{"t":"f","d":3,"r":3,"a":153,"p":2.1},{"t":"f","d":3,"r":3,"a":153,"p":2.36},{"t":"f","d":3,"r":3,"a":153,"p":2.62},{"t":"f","d":3,"r":3,"a":153,"p":2.86},{"t":"f","d":3,"r":3,"a":153,"p":3.08},
{"t":"f","d":3,"r":3,"a":156,"p":2.04},{"t":"f","d":3,"r":3,"a":156,"p":2.3},{"t":"f","d":3,"r":3,"a":156,"p":2.56},{"t":"f","d":3,"r":3,"a":156,"p":2.8},{"t":"f","d":3,"r":3,"a":156,"p":3.02},
{"t":"f","d":3,"r":3,"a":159,"p":2.14},{"t":"f","d":3,"r":3,"a":159,"p":2.4},{"t":"f","d":3,"r":3,"a":159,"p":2.66},{"t":"f","d":3,"r":3,"a":159,"p":2.9},{"t":"f","d":3,"r":3,"a":159,"p":3.14},
{"t":"f","d":3,"r":3,"a":162,"p":2.08},{"t":"f","d":3,"r":3,"a":162,"p":2.34},{"t":"f","d":3,"r":3,"a":162,"p":2.6},{"t":"f","d":3,"r":3,"a":162,"p":2.84},{"t":"f","d":3,"r":3,"a":162,"p":3.1},
{"t":"f","d":3,"r":3,"a":166,"p":2.16},{"t":"f","d":3,"r":3,"a":166,"p":2.42},{"t":"f","d":3,"r":3,"a":166,"p":2.68},{"t":"f","d":3,"r":3,"a":166,"p":2.94},{"t":"f","d":3,"r":3,"a":166,"p":3.2},
{"t":"f","d":3,"r":3,"a":170,"p":2.1},{"t":"f","d":3,"r":3,"a":170,"p":2.38},{"t":"f","d":3,"r":3,"a":170,"p":2.62},{"t":"f","d":3,"r":3,"a":170,"p":2.86},{"t":"f","d":3,"r":3,"a":170,"p":3.06},

{"t":"f","d":5,"r":1,"a":104,"p":0.9},{"t":"f","d":5,"r":1,"a":104,"p":1.14},{"t":"f","d":5,"r":1,"a":104,"p":1.38},{"t":"f","d":5,"r":1,"a":104,"p":1.6},{"t":"f","d":5,"r":1,"a":104,"p":1.85},
{"t":"f","d":5,"r":1,"a":112,"p":0.84},{"t":"f","d":5,"r":1,"a":112,"p":1.1},{"t":"f","d":5,"r":1,"a":112,"p":1.34},{"t":"f","d":5,"r":1,"a":112,"p":1.58},{"t":"f","d":5,"r":1,"a":112,"p":1.82},
{"t":"f","d":5,"r":1,"a":117,"p":0.96},{"t":"f","d":5,"r":1,"a":117,"p":1.2},{"t":"f","d":5,"r":1,"a":117,"p":1.44},{"t":"f","d":5,"r":1,"a":117,"p":1.66},{"t":"f","d":5,"r":1,"a":117,"p":1.9},
{"t":"f","d":5,"r":1,"a":120,"p":0.8},{"t":"f","d":5,"r":1,"a":120,"p":1.06},{"t":"f","d":5,"r":1,"a":120,"p":1.3},{"t":"f","d":5,"r":1,"a":120,"p":1.54},{"t":"f","d":5,"r":1,"a":120,"p":1.78},
{"t":"f","d":5,"r":1,"a":123,"p":0.88},{"t":"f","d":5,"r":1,"a":123,"p":1.16},{"t":"f","d":5,"r":1,"a":123,"p":1.4},{"t":"f","d":5,"r":1,"a":123,"p":1.62},{"t":"f","d":5,"r":1,"a":123,"p":1.86},
{"t":"f","d":5,"r":1,"a":126,"p":0.92},{"t":"f","d":5,"r":1,"a":126,"p":1.22},{"t":"f","d":5,"r":1,"a":126,"p":1.46},{"t":"f","d":5,"r":1,"a":126,"p":1.7},{"t":"f","d":5,"r":1,"a":126,"p":2.65},
{"t":"f","d":5,"r":1,"a":129,"p":1.0},{"t":"f","d":5,"r":1,"a":129,"p":1.35},{"t":"f","d":5,"r":1,"a":129,"p":1.7},{"t":"f","d":5,"r":1,"a":129,"p":2.75},{"t":"f","d":5,"r":1,"a":129,"p":3.05},
{"t":"f","d":5,"r":1,"a":132,"p":1.1},{"t":"f","d":5,"r":1,"a":132,"p":1.55},{"t":"f","d":5,"r":1,"a":132,"p":2.4},{"t":"f","d":5,"r":1,"a":132,"p":2.85},{"t":"f","d":5,"r":1,"a":132,"p":3.1},
{"t":"f","d":5,"r":1,"a":135,"p":1.3},{"t":"f","d":5,"r":1,"a":135,"p":2.2},{"t":"f","d":5,"r":1,"a":135,"p":2.55},{"t":"f","d":5,"r":1,"a":135,"p":2.8},{"t":"f","d":5,"r":1,"a":135,"p":3.12},
{"t":"f","d":5,"r":1,"a":138,"p":2.1},{"t":"f","d":5,"r":1,"a":138,"p":2.36},{"t":"f","d":5,"r":1,"a":138,"p":2.6},{"t":"f","d":5,"r":1,"a":138,"p":2.84},{"t":"f","d":5,"r":1,"a":138,"p":3.1},
{"t":"f","d":5,"r":1,"a":141,"p":2.04},{"t":"f","d":5,"r":1,"a":141,"p":2.3},{"t":"f","d":5,"r":1,"a":141,"p":2.56},{"t":"f","d":5,"r":1,"a":141,"p":2.8},{"t":"f","d":5,"r":1,"a":141,"p":3.04},
{"t":"f","d":5,"r":1,"a":144,"p":2.16},{"t":"f","d":5,"r":1,"a":144,"p":2.42},{"t":"f","d":5,"r":1,"a":144,"p":2.66},{"t":"f","d":5,"r":1,"a":144,"p":2.9},{"t":"f","d":5,"r":1,"a":144,"p":3.16},
{"t":"f","d":5,"r":1,"a":147,"p":2.08},{"t":"f","d":5,"r":1,"a":147,"p":2.34},{"t":"f","d":5,"r":1,"a":147,"p":2.6},{"t":"f","d":5,"r":1,"a":147,"p":2.86},{"t":"f","d":5,"r":1,"a":147,"p":3.1},
{"t":"f","d":5,"r":1,"a":150,"p":2.12},{"t":"f","d":5,"r":1,"a":150,"p":2.38},{"t":"f","d":5,"r":1,"a":150,"p":2.62},{"t":"f","d":5,"r":1,"a":150,"p":2.88},{"t":"f","d":5,"r":1,"a":150,"p":3.14},
{"t":"f","d":5,"r":1,"a":153,"p":2.02},{"t":"f","d":5,"r":1,"a":153,"p":2.28},{"t":"f","d":5,"r":1,"a":153,"p":2.54},{"t":"f","d":5,"r":1,"a":153,"p":2.78},{"t":"f","d":5,"r":1,"a":153,"p":3.02},
{"t":"f","d":5,"r":1,"a":156,"p":2.18},{"t":"f","d":5,"r":1,"a":156,"p":2.44},{"t":"f","d":5,"r":1,"a":156,"p":2.68},{"t":"f","d":5,"r":1,"a":156,"p":2.92},{"t":"f","d":5,"r":1,"a":156,"p":3.18},
{"t":"f","d":5,"r":1,"a":159,"p":2.06},{"t":"f","d":5,"r":1,"a":159,"p":2.32},{"t":"f","d":5,"r":1,"a":159,"p":2.58},{"t":"f","d":5,"r":1,"a":159,"p":2.82},{"t":"f","d":5,"r":1,"a":159,"p":3.06},
{"t":"f","d":5,"r":1,"a":162,"p":2.14},{"t":"f","d":5,"r":1,"a":162,"p":2.4},{"t":"f","d":5,"r":1,"a":162,"p":2.64},{"t":"f","d":5,"r":1,"a":162,"p":2.88},{"t":"f","d":5,"r":1,"a":162,"p":3.12},
{"t":"f","d":5,"r":1,"a":166,"p":2.1},{"t":"f","d":5,"r":1,"a":166,"p":2.36},{"t":"f","d":5,"r":1,"a":166,"p":2.6},{"t":"f","d":5,"r":1,"a":166,"p":2.84},{"t":"f","d":5,"r":1,"a":166,"p":3.08},
{"t":"f","d":5,"r":1,"a":170,"p":2.12},{"t":"f","d":5,"r":1,"a":170,"p":2.4},{"t":"f","d":5,"r":1,"a":170,"p":2.62},{"t":"f","d":5,"r":1,"a":170,"p":2.86},{"t":"f","d":5,"r":1,"a":170,"p":3.0},

{"t":"f","d":5,"r":2,"a":104,"p":0.85},{"t":"f","d":5,"r":2,"a":104,"p":1.12},{"t":"f","d":5,"r":2,"a":104,"p":1.36},{"t":"f","d":5,"r":2,"a":104,"p":1.6},{"t":"f","d":5,"r":2,"a":104,"p":1.98},
{"t":"f","d":5,"r":2,"a":112,"p":0.9},{"t":"f","d":5,"r":2,"a":112,"p":1.16},{"t":"f","d":5,"r":2,"a":112,"p":1.4},{"t":"f","d":5,"r":2,"a":112,"p":1.64},{"t":"f","d":5,"r":2,"a":112,"p":1.88},
{"t":"f","d":5,"r":2,"a":117,"p":0.82},{"t":"f","d":5,"r":2,"a":117,"p":1.08},{"t":"f","d":5,"r":2,"a":117,"p":1.32},{"t":"f","d":5,"r":2,"a":117,"p":1.56},{"t":"f","d":5,"r":2,"a":117,"p":1.8},
{"t":"f","d":5,"r":2,"a":120,"p":0.94},{"t":"f","d":5,"r":2,"a":120,"p":1.2},{"t":"f","d":5,"r":2,"a":120,"p":1.44},{"t":"f","d":5,"r":2,"a":120,"p":1.68},{"t":"f","d":5,"r":2,"a":120,"p":1.92},
{"t":"f","d":5,"r":2,"a":123,"p":0.86},{"t":"f","d":5,"r":2,"a":123,"p":1.14},{"t":"f","d":5,"r":2,"a":123,"p":1.38},{"t":"f","d":5,"r":2,"a":123,"p":1.6},{"t":"f","d":5,"r":2,"a":123,"p":2.48},
{"t":"f","d":5,"r":2,"a":126,"p":0.9},{"t":"f","d":5,"r":2,"a":126,"p":1.18},{"t":"f","d":5,"r":2,"a":126,"p":1.42},{"t":"f","d":5,"r":2,"a":126,"p":1.66},{"t":"f","d":5,"r":2,"a":126,"p":1.9},
{"t":"f","d":5,"r":2,"a":129,"p":0.98},{"t":"f","d":5,"r":2,"a":129,"p":1.3},{"t":"f","d":5,"r":2,"a":129,"p":1.65},{"t":"f","d":5,"r":2,"a":129,"p":2.7},{"t":"f","d":5,"r":2,"a":129,"p":3.0},
{"t":"f","d":5,"r":2,"a":132,"p":1.15},{"t":"f","d":5,"r":2,"a":132,"p":1.6},{"t":"f","d":5,"r":2,"a":132,"p":2.35},{"t":"f","d":5,"r":2,"a":132,"p":2.8},{"t":"f","d":5,"r":2,"a":132,"p":3.15},
{"t":"f","d":5,"r":2,"a":135,"p":1.4},{"t":"f","d":5,"r":2,"a":135,"p":2.25},{"t":"f","d":5,"r":2,"a":135,"p":2.6},{"t":"f","d":5,"r":2,"a":135,"p":2.85},{"t":"f","d":5,"r":2,"a":135,"p":3.1},
{"t":"f","d":5,"r":2,"a":138,"p":2.08},{"t":"f","d":5,"r":2,"a":138,"p":2.34},{"t":"f","d":5,"r":2,"a":138,"p":2.6},{"t":"f","d":5,"r":2,"a":138,"p":2.84},{"t":"f","d":5,"r":2,"a":138,"p":3.08},
{"t":"f","d":5,"r":2,"a":141,"p":2.14},{"t":"f","d":5,"r":2,"a":141,"p":2.4},{"t":"f","d":5,"r":2,"a":141,"p":2.66},{"t":"f","d":5,"r":2,"a":141,"p":2.9},{"t":"f","d":5,"r":2,"a":141,"p":3.14},
{"t":"f","d":5,"r":2,"a":144,"p":2.02},{"t":"f","d":5,"r":2,"a":144,"p":2.3},{"t":"f","d":5,"r":2,"a":144,"p":2.56},{"t":"f","d":5,"r":2,"a":144,"p":2.8},{"t":"f","d":5,"r":2,"a":144,"p":3.2},
{"t":"f","d":5,"r":2,"a":147,"p":2.12},{"t":"f","d":5,"r":2,"a":147,"p":2.38},{"t":"f","d":5,"r":2,"a":147,"p":2.62},{"t":"f","d":5,"r":2,"a":147,"p":2.88},{"t":"f","d":5,"r":2,"a":147,"p":3.12},
{"t":"f","d":5,"r":2,"a":150,"p":2.06},{"t":"f","d":5,"r":2,"a":150,"p":2.32},{"t":"f","d":5,"r":2,"a":150,"p":2.58},{"t":"f","d":5,"r":2,"a":150,"p":2.82},{"t":"f","d":5,"r":2,"a":150,"p":3.06},
{"t":"f","d":5,"r":2,"a":153,"p":2.16},{"t":"f","d":5,"r":2,"a":153,"p":2.42},{"t":"f","d":5,"r":2,"a":153,"p":2.68},{"t":"f","d":5,"r":2,"a":153,"p":2.92},{"t":"f","d":5,"r":2,"a":153,"p":3.16},
{"t":"f","d":5,"r":2,"a":156,"p":2.1},{"t":"f","d":5,"r":2,"a":156,"p":2.36},{"t":"f","d":5,"r":2,"a":156,"p":2.6},{"t":"f","d":5,"r":2,"a":156,"p":2.86},{"t":"f","d":5,"r":2,"a":156,"p":3.1},
{"t":"f","d":5,"r":2,"a":159,"p":2.04},{"t":"f","d":5,"r":2,"a":159,"p":2.3},{"t":"f","d":5,"r":2,"a":159,"p":2.56},{"t":"f","d":5,"r":2,"a":159,"p":2.8},{"t":"f","d":5,"r":2,"a":159,"p":3.04},
{"t":"f","d":5,"r":2,"a":162,"p":2.18},{"t":"f","d":5,"r":2,"a":162,"p":2.44},{"t":"f","d":5,"r":2,"a":162,"p":2.7},{"t":"f","d":5,"r":2,"a":162,"p":2.94},{"t":"f","d":5,"r":2,"a":162,"p":3.18},
{"t":"f","d":5,"r":2,"a":166,"p":2.08},{"t":"f","d":5,"r":2,"a":166,"p":2.34},{"t":"f","d":5,"r":2,"a":166,"p":2.6},{"t":"f","d":5,"r":2,"a":166,"p":2.84},{"t":"f","d":5,"r":2,"a":166,"p":3.08},
{"t":"f","d":5,"r":2,"a":170,"p":2.14},{"t":"f","d":5,"r":2,"a":170,"p":2.4},{"t":"f","d":5,"r":2,"a":170,"p":2.64},{"t":"f","d":5,"r":2,"a":170,"p":2.88},{"t":"f","d":5,"r":2,"a":170,"p":3.04},

{"t":"f","d":5,"r":3,"a":104,"p":0.88},{"t":"f","d":5,"r":3,"a":104,"p":1.14},{"t":"f","d":5,"r":3,"a":104,"p":1.38},{"t":"f","d":5,"r":3,"a":104,"p":1.62},{"t":"f","d":5,"r":3,"a":104,"p":1.86},
{"t":"f","d":5,"r":3,"a":112,"p":0.92},{"t":"f","d":5,"r":3,"a":112,"p":1.18},{"t":"f","d":5,"r":3,"a":112,"p":1.42},{"t":"f","d":5,"r":3,"a":112,"p":1.66},{"t":"f","d":5,"r":3,"a":112,"p":1.9},
{"t":"f","d":5,"r":3,"a":117,"p":0.84},{"t":"f","d":5,"r":3,"a":117,"p":1.1},{"t":"f","d":5,"r":3,"a":117,"p":1.34},{"t":"f","d":5,"r":3,"a":117,"p":1.58},{"t":"f","d":5,"r":3,"a":117,"p":1.82},
{"t":"f","d":5,"r":3,"a":120,"p":0.8},{"t":"f","d":5,"r":3,"a":120,"p":1.06},{"t":"f","d":5,"r":3,"a":120,"p":1.32},{"t":"f","d":5,"r":3,"a":120,"p":1.56},{"t":"f","d":5,"r":3,"a":120,"p":1.8},
{"t":"f","d":5,"r":3,"a":123,"p":0.9},{"t":"f","d":5,"r":3,"a":123,"p":1.16},{"t":"f","d":5,"r":3,"a":123,"p":1.4},{"t":"f","d":5,"r":3,"a":123,"p":1.64},{"t":"f","d":5,"r":3,"a":123,"p":1.88},
{"t":"f","d":5,"r":3,"a":126,"p":0.86},{"t":"f","d":5,"r":3,"a":126,"p":1.12},{"t":"f","d":5,"r":3,"a":126,"p":1.36},{"t":"f","d":5,"r":3,"a":126,"p":1.6},{"t":"f","d":5,"r":3,"a":126,"p":2.0},
{"t":"f","d":5,"r":3,"a":129,"p":1.05},{"t":"f","d":5,"r":3,"a":129,"p":1.4},{"t":"f","d":5,"r":3,"a":129,"p":1.75},{"t":"f","d":5,"r":3,"a":129,"p":2.65},{"t":"f","d":5,"r":3,"a":129,"p":3.1},
{"t":"f","d":5,"r":3,"a":132,"p":1.2},{"t":"f","d":5,"r":3,"a":132,"p":1.6},{"t":"f","d":5,"r":3,"a":132,"p":2.45},{"t":"f","d":5,"r":3,"a":132,"p":2.85},{"t":"f","d":5,"r":3,"a":132,"p":3.18},
{"t":"f","d":5,"r":3,"a":135,"p":1.35},{"t":"f","d":5,"r":3,"a":135,"p":2.2},{"t":"f","d":5,"r":3,"a":135,"p":2.55},{"t":"f","d":5,"r":3,"a":135,"p":2.82},{"t":"f","d":5,"r":3,"a":135,"p":3.06},
{"t":"f","d":5,"r":3,"a":138,"p":2.06},{"t":"f","d":5,"r":3,"a":138,"p":2.32},{"t":"f","d":5,"r":3,"a":138,"p":2.58},{"t":"f","d":5,"r":3,"a":138,"p":2.82},{"t":"f","d":5,"r":3,"a":138,"p":3.06},
{"t":"f","d":5,"r":3,"a":141,"p":2.14},{"t":"f","d":5,"r":3,"a":141,"p":2.4},{"t":"f","d":5,"r":3,"a":141,"p":2.64},{"t":"f","d":5,"r":3,"a":141,"p":2.88},{"t":"f","d":5,"r":3,"a":141,"p":3.12},
{"t":"f","d":5,"r":3,"a":144,"p":2.1},{"t":"f","d":5,"r":3,"a":144,"p":2.36},{"t":"f","d":5,"r":3,"a":144,"p":2.6},{"t":"f","d":5,"r":3,"a":144,"p":2.86},{"t":"f","d":5,"r":3,"a":144,"p":3.1},
{"t":"f","d":5,"r":3,"a":147,"p":2.02},{"t":"f","d":5,"r":3,"a":147,"p":2.28},{"t":"f","d":5,"r":3,"a":147,"p":2.54},{"t":"f","d":5,"r":3,"a":147,"p":2.78},{"t":"f","d":5,"r":3,"a":147,"p":3.02},
{"t":"f","d":5,"r":3,"a":150,"p":2.16},{"t":"f","d":5,"r":3,"a":150,"p":2.42},{"t":"f","d":5,"r":3,"a":150,"p":2.66},{"t":"f","d":5,"r":3,"a":150,"p":2.9},{"t":"f","d":5,"r":3,"a":150,"p":3.16},
{"t":"f","d":5,"r":3,"a":153,"p":2.08},{"t":"f","d":5,"r":3,"a":153,"p":2.34},{"t":"f","d":5,"r":3,"a":153,"p":2.6},{"t":"f","d":5,"r":3,"a":153,"p":2.84},{"t":"f","d":5,"r":3,"a":153,"p":3.08},
{"t":"f","d":5,"r":3,"a":156,"p":2.12},{"t":"f","d":5,"r":3,"a":156,"p":2.38},{"t":"f","d":5,"r":3,"a":156,"p":2.62},{"t":"f","d":5,"r":3,"a":156,"p":2.88},{"t":"f","d":5,"r":3,"a":156,"p":3.14},
{"t":"f","d":5,"r":3,"a":159,"p":2.04},{"t":"f","d":5,"r":3,"a":159,"p":2.3},{"t":"f","d":5,"r":3,"a":159,"p":2.56},{"t":"f","d":5,"r":3,"a":159,"p":2.8},{"t":"f","d":5,"r":3,"a":159,"p":3.04},
{"t":"f","d":5,"r":3,"a":162,"p":2.18},{"t":"f","d":5,"r":3,"a":162,"p":2.44},{"t":"f","d":5,"r":3,"a":162,"p":2.68},{"t":"f","d":5,"r":3,"a":162,"p":2.92},{"t":"f","d":5,"r":3,"a":162,"p":3.18},
{"t":"f","d":5,"r":3,"a":166,"p":2.1},{"t":"f","d":5,"r":3,"a":166,"p":2.36},{"t":"f","d":5,"r":3,"a":166,"p":2.6},{"t":"f","d":5,"r":3,"a":166,"p":2.84},{"t":"f","d":5,"r":3,"a":166,"p":3.06},
{"t":"f","d":5,"r":3,"a":170,"p":2.14},{"t":"f","d":5,"r":3,"a":170,"p":2.4},{"t":"f","d":5,"r":3,"a":170,"p":2.64},{"t":"f","d":5,"r":3,"a":170,"p":2.88},{"t":"f","d":5,"r":3,"a":170,"p":3.02},

{"t":"f","d":10,"r":1,"a":104,"p":0.86},{"t":"f","d":10,"r":1,"a":104,"p":1.12},{"t":"f","d":10,"r":1,"a":104,"p":1.36},{"t":"f","d":10,"r":1,"a":104,"p":1.6},{"t":"f","d":10,"r":1,"a":104,"p":1.84},
{"t":"f","d":10,"r":1,"a":112,"p":0.9},{"t":"f","d":10,"r":1,"a":112,"p":1.16},{"t":"f","d":10,"r":1,"a":112,"p":1.4},{"t":"f","d":10,"r":1,"a":112,"p":1.64},{"t":"f","d":10,"r":1,"a":112,"p":1.88},
{"t":"f","d":10,"r":1,"a":117,"p":0.82},{"t":"f","d":10,"r":1,"a":117,"p":1.08},{"t":"f","d":10,"r":1,"a":117,"p":1.32},{"t":"f","d":10,"r":1,"a":117,"p":1.56},{"t":"f","d":10,"r":1,"a":117,"p":1.8},
{"t":"f","d":10,"r":1,"a":120,"p":0.94},{"t":"f","d":10,"r":1,"a":120,"p":1.2},{"t":"f","d":10,"r":1,"a":120,"p":1.44},{"t":"f","d":10,"r":1,"a":120,"p":1.68},{"t":"f","d":10,"r":1,"a":120,"p":2.55},
{"t":"f","d":10,"r":1,"a":123,"p":0.88},{"t":"f","d":10,"r":1,"a":123,"p":1.3},{"t":"f","d":10,"r":1,"a":123,"p":1.6},{"t":"f","d":10,"r":1,"a":123,"p":2.5},{"t":"f","d":10,"r":1,"a":123,"p":2.96},
{"t":"f","d":10,"r":1,"a":126,"p":0.85},{"t":"f","d":10,"r":1,"a":126,"p":1.2},{"t":"f","d":10,"r":1,"a":126,"p":1.5},{"t":"f","d":10,"r":1,"a":126,"p":2.3},{"t":"f","d":10,"r":1,"a":126,"p":2.7},
{"t":"f","d":10,"r":1,"a":129,"p":0.95},{"t":"f","d":10,"r":1,"a":129,"p":1.4},{"t":"f","d":10,"r":1,"a":129,"p":1.8},{"t":"f","d":10,"r":1,"a":129,"p":2.4},{"t":"f","d":10,"r":1,"a":129,"p":2.9},
{"t":"f","d":10,"r":1,"a":132,"p":1.1},{"t":"f","d":10,"r":1,"a":132,"p":1.6},{"t":"f","d":10,"r":1,"a":132,"p":2.2},{"t":"f","d":10,"r":1,"a":132,"p":2.6},{"t":"f","d":10,"r":1,"a":132,"p":3.0},
{"t":"f","d":10,"r":1,"a":135,"p":1.3},{"t":"f","d":10,"r":1,"a":135,"p":1.85},{"t":"f","d":10,"r":1,"a":135,"p":2.4},{"t":"f","d":10,"r":1,"a":135,"p":2.75},{"t":"f","d":10,"r":1,"a":135,"p":3.1},
{"t":"f","d":10,"r":1,"a":138,"p":1.6},{"t":"f","d":10,"r":1,"a":138,"p":2.2},{"t":"f","d":10,"r":1,"a":138,"p":2.5},{"t":"f","d":10,"r":1,"a":138,"p":2.8},{"t":"f","d":10,"r":1,"a":138,"p":3.05},
{"t":"f","d":10,"r":1,"a":141,"p":1.9},{"t":"f","d":10,"r":1,"a":141,"p":2.3},{"t":"f","d":10,"r":1,"a":141,"p":2.6},{"t":"f","d":10,"r":1,"a":141,"p":2.9},{"t":"f","d":10,"r":1,"a":141,"p":3.2},
{"t":"f","d":10,"r":1,"a":144,"p":2.1},{"t":"f","d":10,"r":1,"a":144,"p":2.36},{"t":"f","d":10,"r":1,"a":144,"p":2.6},{"t":"f","d":10,"r":1,"a":144,"p":2.84},{"t":"f","d":10,"r":1,"a":144,"p":3.08},
{"t":"f","d":10,"r":1,"a":147,"p":2.04},{"t":"f","d":10,"r":1,"a":147,"p":2.3},{"t":"f","d":10,"r":1,"a":147,"p":2.56},{"t":"f","d":10,"r":1,"a":147,"p":2.8},{"t":"f","d":10,"r":1,"a":147,"p":3.04},
{"t":"f","d":10,"r":1,"a":150,"p":2.16},{"t":"f","d":10,"r":1,"a":150,"p":2.42},{"t":"f","d":10,"r":1,"a":150,"p":2.66},{"t":"f","d":10,"r":1,"a":150,"p":2.9},{"t":"f","d":10,"r":1,"a":150,"p":3.14},
{"t":"f","d":10,"r":1,"a":153,"p":2.08},{"t":"f","d":10,"r":1,"a":153,"p":2.34},{"t":"f","d":10,"r":1,"a":153,"p":2.6},{"t":"f","d":10,"r":1,"a":153,"p":2.86},{"t":"f","d":10,"r":1,"a":153,"p":3.1},
{"t":"f","d":10,"r":1,"a":156,"p":2.12},{"t":"f","d":10,"r":1,"a":156,"p":2.38},{"t":"f","d":10,"r":1,"a":156,"p":2.62},{"t":"f","d":10,"r":1,"a":156,"p":2.88},{"t":"f","d":10,"r":1,"a":156,"p":3.12},
{"t":"f","d":10,"r":1,"a":159,"p":2.02},{"t":"f","d":10,"r":1,"a":159,"p":2.28},{"t":"f","d":10,"r":1,"a":159,"p":2.54},{"t":"f","d":10,"r":1,"a":159,"p":2.78},{"t":"f","d":10,"r":1,"a":159,"p":3.02},
{"t":"f","d":10,"r":1,"a":162,"p":2.18},{"t":"f","d":10,"r":1,"a":162,"p":2.44},{"t":"f","d":10,"r":1,"a":162,"p":2.68},{"t":"f","d":10,"r":1,"a":162,"p":2.92},{"t":"f","d":10,"r":1,"a":162,"p":3.18},
{"t":"f","d":10,"r":1,"a":166,"p":2.06},{"t":"f","d":10,"r":1,"a":166,"p":2.32},{"t":"f","d":10,"r":1,"a":166,"p":2.58},{"t":"f","d":10,"r":1,"a":166,"p":2.82},{"t":"f","d":10,"r":1,"a":166,"p":3.06},
{"t":"f","d":10,"r":1,"a":170,"p":2.12},{"t":"f","d":10,"r":1,"a":170,"p":2.38},{"t":"f","d":10,"r":1,"a":170,"p":2.62},{"t":"f","d":10,"r":1,"a":170,"p":2.86},{"t":"f","d":10,"r":1,"a":170,"p":3.04},

{"t":"f","d":10,"r":2,"a":104,"p":0.88},{"t":"f","d":10,"r":2,"a":104,"p":1.14},{"t":"f","d":10,"r":2,"a":104,"p":1.38},{"t":"f","d":10,"r":2,"a":104,"p":1.62},{"t":"f","d":10,"r":2,"a":104,"p":1.86},
{"t":"f","d":10,"r":2,"a":112,"p":0.92},{"t":"f","d":10,"r":2,"a":112,"p":1.18},{"t":"f","d":10,"r":2,"a":112,"p":1.42},{"t":"f","d":10,"r":2,"a":112,"p":1.66},{"t":"f","d":10,"r":2,"a":112,"p":1.9},
{"t":"f","d":10,"r":2,"a":117,"p":0.84},{"t":"f","d":10,"r":2,"a":117,"p":1.1},{"t":"f","d":10,"r":2,"a":117,"p":1.34},{"t":"f","d":10,"r":2,"a":117,"p":1.58},{"t":"f","d":10,"r":2,"a":117,"p":1.82},
{"t":"f","d":10,"r":2,"a":120,"p":0.9},{"t":"f","d":10,"r":2,"a":120,"p":1.16},{"t":"f","d":10,"r":2,"a":120,"p":1.4},{"t":"f","d":10,"r":2,"a":120,"p":1.64},{"t":"f","d":10,"r":2,"a":120,"p":2.55},
{"t":"f","d":10,"r":2,"a":123,"p":0.86},{"t":"f","d":10,"r":2,"a":123,"p":1.25},{"t":"f","d":10,"r":2,"a":123,"p":1.55},{"t":"f","d":10,"r":2,"a":123,"p":2.45},{"t":"f","d":10,"r":2,"a":123,"p":3.08},
{"t":"f","d":10,"r":2,"a":126,"p":0.9},{"t":"f","d":10,"r":2,"a":126,"p":1.3},{"t":"f","d":10,"r":2,"a":126,"p":1.62},{"t":"f","d":10,"r":2,"a":126,"p":2.35},{"t":"f","d":10,"r":2,"a":126,"p":2.8},
{"t":"f","d":10,"r":2,"a":129,"p":1.0},{"t":"f","d":10,"r":2,"a":129,"p":1.45},{"t":"f","d":10,"r":2,"a":129,"p":1.85},{"t":"f","d":10,"r":2,"a":129,"p":2.5},{"t":"f","d":10,"r":2,"a":129,"p":2.95},
{"t":"f","d":10,"r":2,"a":132,"p":1.15},{"t":"f","d":10,"r":2,"a":132,"p":1.65},{"t":"f","d":10,"r":2,"a":132,"p":2.25},{"t":"f","d":10,"r":2,"a":132,"p":2.65},{"t":"f","d":10,"r":2,"a":132,"p":3.05},
{"t":"f","d":10,"r":2,"a":135,"p":1.35},{"t":"f","d":10,"r":2,"a":135,"p":1.9},{"t":"f","d":10,"r":2,"a":135,"p":2.45},{"t":"f","d":10,"r":2,"a":135,"p":2.8},{"t":"f","d":10,"r":2,"a":135,"p":3.15},
{"t":"f","d":10,"r":2,"a":138,"p":1.65},{"t":"f","d":10,"r":2,"a":138,"p":2.15},{"t":"f","d":10,"r":2,"a":138,"p":2.55},{"t":"f","d":10,"r":2,"a":138,"p":2.85},{"t":"f","d":10,"r":2,"a":138,"p":3.1},
{"t":"f","d":10,"r":2,"a":141,"p":2.0},{"t":"f","d":10,"r":2,"a":141,"p":2.35},{"t":"f","d":10,"r":2,"a":141,"p":2.62},{"t":"f","d":10,"r":2,"a":141,"p":2.9},{"t":"f","d":10,"r":2,"a":141,"p":3.2},
{"t":"f","d":10,"r":2,"a":144,"p":2.08},{"t":"f","d":10,"r":2,"a":144,"p":2.34},{"t":"f","d":10,"r":2,"a":144,"p":2.6},{"t":"f","d":10,"r":2,"a":144,"p":2.84},{"t":"f","d":10,"r":2,"a":144,"p":3.08},
{"t":"f","d":10,"r":2,"a":147,"p":2.14},{"t":"f","d":10,"r":2,"a":147,"p":2.4},{"t":"f","d":10,"r":2,"a":147,"p":2.64},{"t":"f","d":10,"r":2,"a":147,"p":2.88},{"t":"f","d":10,"r":2,"a":147,"p":3.12},
{"t":"f","d":10,"r":2,"a":150,"p":2.04},{"t":"f","d":10,"r":2,"a":150,"p":2.3},{"t":"f","d":10,"r":2,"a":150,"p":2.56},{"t":"f","d":10,"r":2,"a":150,"p":2.8},{"t":"f","d":10,"r":2,"a":150,"p":3.04},
{"t":"f","d":10,"r":2,"a":153,"p":2.16},{"t":"f","d":10,"r":2,"a":153,"p":2.42},{"t":"f","d":10,"r":2,"a":153,"p":2.68},{"t":"f","d":10,"r":2,"a":153,"p":2.92},{"t":"f","d":10,"r":2,"a":153,"p":3.16},
{"t":"f","d":10,"r":2,"a":156,"p":2.1},{"t":"f","d":10,"r":2,"a":156,"p":2.36},{"t":"f","d":10,"r":2,"a":156,"p":2.6},{"t":"f","d":10,"r":2,"a":156,"p":2.86},{"t":"f","d":10,"r":2,"a":156,"p":3.1},
{"t":"f","d":10,"r":2,"a":159,"p":2.06},{"t":"f","d":10,"r":2,"a":159,"p":2.32},{"t":"f","d":10,"r":2,"a":159,"p":2.58},{"t":"f","d":10,"r":2,"a":159,"p":2.82},{"t":"f","d":10,"r":2,"a":159,"p":3.06},
{"t":"f","d":10,"r":2,"a":162,"p":2.12},{"t":"f","d":10,"r":2,"a":162,"p":2.38},{"t":"f","d":10,"r":2,"a":162,"p":2.62},{"t":"f","d":10,"r":2,"a":162,"p":2.88},{"t":"f","d":10,"r":2,"a":162,"p":3.14},
{"t":"f","d":10,"r":2,"a":166,"p":2.02},{"t":"f","d":10,"r":2,"a":166,"p":2.3},{"t":"f","d":10,"r":2,"a":166,"p":2.56},{"t":"f","d":10,"r":2,"a":166,"p":2.8},{"t":"f","d":10,"r":2,"a":166,"p":3.02},
{"t":"f","d":10,"r":2,"a":170,"p":2.16},{"t":"f","d":10,"r":2,"a":170,"p":2.4},{"t":"f","d":10,"r":2,"a":170,"p":2.64},{"t":"f","d":10,"r":2,"a":170,"p":2.9},{"t":"f","d":10,"r":2,"a":170,"p":3.08},

{"t":"f","d":10,"r":3,"a":104,"p":0.9},{"t":"f","d":10,"r":3,"a":104,"p":1.16},{"t":"f","d":10,"r":3,"a":104,"p":1.4},{"t":"f","d":10,"r":3,"a":104,"p":1.64},{"t":"f","d":10,"r":3,"a":104,"p":1.88},
{"t":"f","d":10,"r":3,"a":112,"p":0.86},{"t":"f","d":10,"r":3,"a":112,"p":1.12},{"t":"f","d":10,"r":3,"a":112,"p":1.36},{"t":"f","d":10,"r":3,"a":112,"p":1.6},{"t":"f","d":10,"r":3,"a":112,"p":1.84},
{"t":"f","d":10,"r":3,"a":117,"p":0.92},{"t":"f","d":10,"r":3,"a":117,"p":1.18},{"t":"f","d":10,"r":3,"a":117,"p":1.42},{"t":"f","d":10,"r":3,"a":117,"p":1.66},{"t":"f","d":10,"r":3,"a":117,"p":1.98},
{"t":"f","d":10,"r":3,"a":120,"p":0.84},{"t":"f","d":10,"r":3,"a":120,"p":1.2},{"t":"f","d":10,"r":3,"a":120,"p":1.45},{"t":"f","d":10,"r":3,"a":120,"p":2.45},{"t":"f","d":10,"r":3,"a":120,"p":2.6},
{"t":"f","d":10,"r":3,"a":123,"p":0.88},{"t":"f","d":10,"r":3,"a":123,"p":1.3},{"t":"f","d":10,"r":3,"a":123,"p":1.65},{"t":"f","d":10,"r":3,"a":123,"p":2.55},{"t":"f","d":10,"r":3,"a":123,"p":2.85},
{"t":"f","d":10,"r":3,"a":126,"p":0.95},{"t":"f","d":10,"r":3,"a":126,"p":1.35},{"t":"f","d":10,"r":3,"a":126,"p":1.7},{"t":"f","d":10,"r":3,"a":126,"p":2.4},{"t":"f","d":10,"r":3,"a":126,"p":2.75},
{"t":"f","d":10,"r":3,"a":129,"p":1.05},{"t":"f","d":10,"r":3,"a":129,"p":1.5},{"t":"f","d":10,"r":3,"a":129,"p":1.9},{"t":"f","d":10,"r":3,"a":129,"p":2.55},{"t":"f","d":10,"r":3,"a":129,"p":3.0},
{"t":"f","d":10,"r":3,"a":132,"p":1.2},{"t":"f","d":10,"r":3,"a":132,"p":1.7},{"t":"f","d":10,"r":3,"a":132,"p":2.3},{"t":"f","d":10,"r":3,"a":132,"p":2.7},{"t":"f","d":10,"r":3,"a":132,"p":3.1},
{"t":"f","d":10,"r":3,"a":135,"p":1.4},{"t":"f","d":10,"r":3,"a":135,"p":1.95},{"t":"f","d":10,"r":3,"a":135,"p":2.5},{"t":"f","d":10,"r":3,"a":135,"p":2.8},{"t":"f","d":10,"r":3,"a":135,"p":3.15},
{"t":"f","d":10,"r":3,"a":138,"p":1.7},{"t":"f","d":10,"r":3,"a":138,"p":2.2},{"t":"f","d":10,"r":3,"a":138,"p":2.55},{"t":"f","d":10,"r":3,"a":138,"p":2.85},{"t":"f","d":10,"r":3,"a":138,"p":3.08},
{"t":"f","d":10,"r":3,"a":141,"p":2.0},{"t":"f","d":10,"r":3,"a":141,"p":2.32},{"t":"f","d":10,"r":3,"a":141,"p":2.6},{"t":"f","d":10,"r":3,"a":141,"p":2.9},{"t":"f","d":10,"r":3,"a":141,"p":3.18},
{"t":"f","d":10,"r":3,"a":144,"p":2.1},{"t":"f","d":10,"r":3,"a":144,"p":2.36},{"t":"f","d":10,"r":3,"a":144,"p":2.62},{"t":"f","d":10,"r":3,"a":144,"p":2.86},{"t":"f","d":10,"r":3,"a":144,"p":3.1},
{"t":"f","d":10,"r":3,"a":147,"p":2.04},{"t":"f","d":10,"r":3,"a":147,"p":2.3},{"t":"f","d":10,"r":3,"a":147,"p":2.56},{"t":"f","d":10,"r":3,"a":147,"p":2.82},{"t":"f","d":10,"r":3,"a":147,"p":3.06},
{"t":"f","d":10,"r":3,"a":150,"p":2.16},{"t":"f","d":10,"r":3,"a":150,"p":2.42},{"t":"f","d":10,"r":3,"a":150,"p":2.66},{"t":"f","d":10,"r":3,"a":150,"p":2.9},{"t":"f","d":10,"r":3,"a":150,"p":3.16},
{"t":"f","d":10,"r":3,"a":153,"p":2.08},{"t":"f","d":10,"r":3,"a":153,"p":2.34},{"t":"f","d":10,"r":3,"a":153,"p":2.6},{"t":"f","d":10,"r":3,"a":153,"p":2.84},{"t":"f","d":10,"r":3,"a":153,"p":3.08},
{"t":"f","d":10,"r":3,"a":156,"p":2.12},{"t":"f","d":10,"r":3,"a":156,"p":2.38},{"t":"f","d":10,"r":3,"a":156,"p":2.64},{"t":"f","d":10,"r":3,"a":156,"p":2.88},{"t":"f","d":10,"r":3,"a":156,"p":3.2},
{"t":"f","d":10,"r":3,"a":159,"p":2.02},{"t":"f","d":10,"r":3,"a":159,"p":2.28},{"t":"f","d":10,"r":3,"a":159,"p":2.54},{"t":"f","d":10,"r":3,"a":159,"p":2.8},{"t":"f","d":10,"r":3,"a":159,"p":3.04},
{"t":"f","d":10,"r":3,"a":162,"p":2.18},{"t":"f","d":10,"r":3,"a":162,"p":2.44},{"t":"f","d":10,"r":3,"a":162,"p":2.68},{"t":"f","d":10,"r":3,"a":162,"p":2.92},{"t":"f","d":10,"r":3,"a":162,"p":3.14},
{"t":"f","d":10,"r":3,"a":166,"p":2.06},{"t":"f","d":10,"r":3,"a":166,"p":2.32},{"t":"f","d":10,"r":3,"a":166,"p":2.58},{"t":"f","d":10,"r":3,"a":166,"p":2.84},{"t":"f","d":10,"r":3,"a":166,"p":3.06},
{"t":"f","d":10,"r":3,"a":170,"p":2.1},{"t":"f","d":10,"r":3,"a":170,"p":2.36},{"t":"f","d":10,"r":3,"a":170,"p":2.62},{"t":"f","d":10,"r":3,"a":170,"p":2.86},{"t":"f","d":10,"r":3,"a":170,"p":3.02}
]},
"facet": {
  "column": {"field": "d", "type": "ordinal", "sort": [3, 5, 10], "title": "Age [ka BP]", "header": {"titleOrient": "bottom", "labelOrient": "top", "titleFont": "Liberation Sans", "titleFontSize": 17, "titleFontWeight": "normal", "titleColor": "#000000", "titlePadding": 0, "labelExpr": "'biot.depth: ' + datum.value", "labelFont": "Liberation Sans", "labelFontSize": 13.5, "labelColor": "#1a1a1a", "labelPadding": 7}},
  "row": {"field": "r", "type": "ordinal", "sort": [1, 2, 3], "title": "Simulated proxy", "header": {"titleOrient": "left", "labelOrient": "right", "titleFont": "Liberation Sans", "titleFontSize": 17, "titleFontWeight": "normal", "titleColor": "#000000", "titlePadding": 2, "labelExpr": "'rep: Rep ' + datum.value", "labelAngle": 90, "labelFont": "Liberation Sans", "labelFontSize": 13.5, "labelColor": "#1a1a1a", "labelPadding": 8}}
},
"spacing": {"row": 12, "column": 11},
"spec": {
  "width": 131,
  "height": 152,
  "layer": [
    {
      "transform": [{"filter": "datum.t === 'b'"}],
      "mark": {"type": "rect", "color": "#ffff00"},
      "encoding": {
        "x": {"field": "a", "type": "quantitative", "scale": {"domain": [80, 194.5], "nice": false, "zero": false},
          "axis": {"title": null, "values": [90, 110, 130, 150, 170, 190],
            "labelExpr": "(datum.value - 90) % 40 === 0 ? datum.label : ''",
            "tickColor": {"condition": {"test": "(datum.value - 90) % 40 === 0", "value": "#333333"}, "value": "transparent"},
            "gridWidth": {"condition": {"test": "(datum.value - 90) % 40 === 0", "value": 1}, "value": 0.6}}},
        "x2": {"field": "a2"}
      }
    },
    {
      "transform": [{"filter": "datum.t === 'f'"}],
      "mark": {"type": "circle", "size": 62, "opacity": 0.42},
      "encoding": {
        "x": {"field": "a", "type": "quantitative"},
        "y": {"field": "p", "type": "quantitative", "scale": {"domain": [-0.15, 3.62], "reverse": true, "nice": false, "zero": false},
          "axis": {"title": null, "values": [0, 0.5, 1, 1.5, 2, 2.5, 3, 3.5],
            "labelExpr": "datum.value % 1 === 0 ? datum.label : ''",
            "tickColor": {"condition": {"test": "datum.value % 1 === 0", "value": "#333333"}, "value": "transparent"},
            "gridWidth": {"condition": {"test": "datum.value % 1 === 0", "value": 1}, "value": 0.6}}},
        "color": {"datum": "Individual foraminifera", "type": "nominal",
          "scale": {"domain": ["Bioturbated climate signal", "Climate trend", "Individual foraminifera", "Mean of 45 foraminifera"], "range": ["#00ff00", "#ff0000", "#8c8c8c", "#1a1a1a"]},
          "legend": {"title": null, "orient": "none", "legendX": 104, "legendY": -181, "direction": "vertical",
            "symbolType": "stroke", "symbolSize": 600, "symbolStrokeWidth": 1.6, "symbolOpacity": 1,
            "labelFont": "Liberation Sans", "labelFontSize": 14, "labelColor": "#1a1a1a", "labelOffset": 7, "labelLimit": 400, "rowPadding": 9.5, "padding": 0,
            "encode": {"symbols": {"update": {
              "shape": {"signal": "datum.value === 'Individual foraminifera' ? 'circle' : 'stroke'"},
              "size": {"signal": "datum.value === 'Individual foraminifera' ? 45 : 600"},
              "fill": {"signal": "datum.value === 'Individual foraminifera' ? '#999999' : 'transparent'"},
              "stroke": {"signal": "datum.value === 'Bioturbated climate signal' ? '#00ff00' : datum.value === 'Climate trend' ? '#ff0000' : datum.value === 'Mean of 45 foraminifera' ? '#1a1a1a' : 'transparent'"},
              "opacity": {"value": 1}
            }}}}
        }
      }
    },
    {
      "transform": [{"filter": "datum.t === 'c'"}],
      "mark": {"type": "line", "strokeWidth": 1.4},
      "encoding": {
        "x": {"field": "a", "type": "quantitative"},
        "y": {"field": "p", "type": "quantitative"},
        "color": {"datum": "Climate trend", "type": "nominal"}
      }
    },
    {
      "transform": [{"filter": "datum.t === 'g'"}],
      "mark": {"type": "line", "strokeWidth": 1.4},
      "encoding": {
        "x": {"field": "a", "type": "quantitative"},
        "y": {"field": "p", "type": "quantitative"},
        "color": {"datum": "Bioturbated climate signal", "type": "nominal"}
      }
    },
    {
      "transform": [{"filter": "datum.t === 'm'"}],
      "mark": {"type": "line", "strokeWidth": 1.3},
      "encoding": {
        "x": {"field": "a", "type": "quantitative"},
        "y": {"field": "p", "type": "quantitative"},
        "color": {"datum": "Mean of 45 foraminifera", "type": "nominal"}
      }
    }
  ]
},
"config": {
  "font": "Liberation Sans",
  "view": {"stroke": "#6e6e6e", "strokeWidth": 1},
  "axis": {
    "domain": true, "domainColor": "#333333", "domainWidth": 1,
    "gridColor": "#ebebeb",
    "tickSize": 4, "tickWidth": 1,
    "labelFont": "Liberation Sans", "labelFontSize": 13.5, "labelColor": "#4d4d4d", "labelPadding": 2,
    "titleFont": "Liberation Sans", "titleFontSize": 17, "titleFontWeight": "normal", "titleColor": "#000000"
  },
  "axisX": {"labelPadding": 3},
  "axisY": {"labelPadding": 2}
}
}
